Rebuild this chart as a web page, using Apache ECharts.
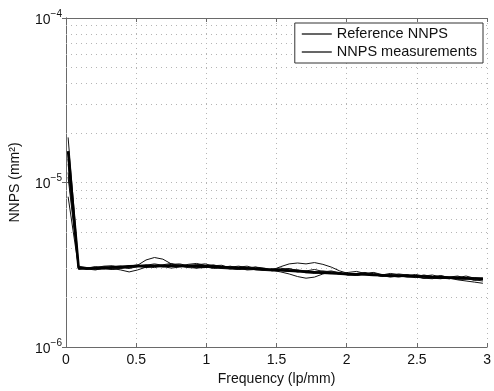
<!DOCTYPE html>
<html><head><meta charset="utf-8">
<script src="https://cdn.jsdelivr.net/npm/echarts@6/dist/echarts.min.js"></script>
<style>html,body{margin:0;padding:0;background:#fff}#c{width:494px;height:391px}</style>
</head><body><div id="c"></div>
<script>
// values in units of 1e-6 mm^2
const freq = [0.015,0.09,0.15,0.21,0.27,0.33,0.39,0.45,0.51,0.57,0.63,0.69,0.75,0.81,0.87,0.93,0.99,1.05,1.11,1.17,1.23,1.29,1.35,1.41,1.47,1.53,1.59,1.65,1.71,1.77,1.83,1.89,1.95,2.01,2.07,2.13,2.19,2.25,2.31,2.37,2.43,2.49,2.55,2.61,2.67,2.73,2.79,2.85,2.91,2.97];
const refNNPS = [15.5,3.02,3.0,3.01,3.03,3.05,3.07,3.09,3.1,3.11,3.12,3.12,3.12,3.12,3.11,3.1,3.09,3.08,3.06,3.04,3.02,3.0,2.99,2.97,2.95,2.93,2.91,2.89,2.87,2.85,2.83,2.81,2.8,2.78,2.77,2.76,2.74,2.73,2.72,2.71,2.7,2.69,2.68,2.66,2.65,2.64,2.63,2.62,2.61,2.6];
const meas1 = [18.8,3.1,3.04,2.96,2.98,3.08,3.1,3.02,3.14,3.38,3.5,3.42,3.2,3.08,3.06,3.16,3.2,3.12,3.0,2.98,3.06,3.1,3.0,2.92,2.9,2.98,3.0,2.9,2.82,2.84,2.9,2.86,2.76,2.74,2.8,2.84,2.76,2.68,2.7,2.78,2.74,2.66,2.62,2.68,2.72,2.64,2.6,2.58,2.64,2.62];
const meas2 = [13.9,2.98,3.02,3.08,3.04,2.96,3.0,3.1,3.16,3.08,3.04,3.1,3.18,3.2,3.12,3.06,3.04,3.12,3.14,3.02,2.96,2.98,3.06,3.02,2.94,3.08,3.2,3.24,3.2,3.26,3.18,3.06,2.9,2.8,2.74,2.78,2.82,2.74,2.68,2.72,2.76,2.7,2.62,2.64,2.7,2.66,2.58,2.6,2.56,2.52];
const meas3 = [13.0,3.04,2.98,2.94,3.02,3.0,2.94,2.86,2.94,3.06,3.12,3.08,3.02,3.06,3.14,3.16,3.08,3.0,3.04,3.1,3.02,2.94,2.96,3.0,2.92,2.86,2.78,2.68,2.62,2.66,2.78,2.86,2.84,2.76,2.72,2.78,2.8,2.72,2.66,2.7,2.74,2.68,2.62,2.6,2.66,2.62,2.56,2.52,2.48,2.44];
const meas4 = [11.5,3.06,3.0,3.04,3.1,3.12,3.04,3.0,3.08,3.14,3.2,3.14,3.08,3.1,3.18,3.22,3.14,3.04,3.0,3.06,3.1,3.04,2.94,2.92,2.98,3.02,2.94,2.86,2.9,2.96,2.88,2.8,2.78,2.84,2.88,2.8,2.72,2.74,2.8,2.76,2.68,2.64,2.7,2.74,2.66,2.6,2.64,2.7,2.62,2.56];
const meas5 = [10.8,2.96,3.02,3.06,2.98,2.96,3.04,3.12,3.1,3.04,3.08,3.16,3.22,3.12,3.04,3.02,3.1,3.16,3.06,2.98,2.96,3.04,3.06,2.98,2.9,2.92,2.98,2.94,2.84,2.8,2.86,2.9,2.82,2.74,2.72,2.8,2.84,2.76,2.7,2.66,2.72,2.76,2.7,2.62,2.6,2.66,2.7,2.62,2.54,2.58];
const meas6 = [8.2,3.0,2.96,3.02,3.08,3.04,3.0,3.06,3.12,3.16,3.1,3.06,3.12,3.16,3.1,3.02,3.04,3.12,3.08,3.0,2.98,3.04,3.0,2.94,2.98,2.92,2.88,2.94,2.9,2.82,2.8,2.86,2.82,2.74,2.78,2.82,2.74,2.7,2.76,2.72,2.66,2.68,2.74,2.68,2.62,2.6,2.66,2.62,2.58,2.62];
const measurements = [meas1, meas2, meas3, meas4, meas5, meas6];
const xTicks = [0, 0.5, 1, 1.5, 2, 2.5, 3];
const yTickLabels = {1: '−6', 10: '−5', 100: '−4'};
const minorGrid = [2,3,4,5,6,7,8,9,20,30,40,50,60,70,80,90];

const FONT = 'Liberation Sans';
const pair = arr => freq.slice(0, arr.length).map((f, i) => [f, arr[i]]);
const axisGray = '#6a6a6a';
const gridStyle = {color: '#b5b5b5', type: [1, 4], width: 1};

const series = [{
  name: 'grid', type: 'line', data: [], silent: true, animation: false, z: 1,
  markLine: {
    silent: true, symbol: 'none', label: {show: false}, animation: false, z: 1,
    lineStyle: gridStyle, data: minorGrid.map(v => ({yAxis: v}))
  }
}];
measurements.forEach((m) => {
  series.push({
    name: 'NNPS measurements', type: 'line', data: pair(m), symbol: 'none',
    lineStyle: {color: '#111', width: 1}, itemStyle: {color: '#111'}, animation: false, z: 3
  });
});
series.push({
  name: 'Reference NNPS', type: 'line', data: pair(refNNPS), symbol: 'none',
  lineStyle: {color: '#000', width: 2.6}, itemStyle: {color: '#000'}, animation: false, z: 4
});

const legendItem = name => ({
  name: name, icon: 'rect',
  itemStyle: {color: '#000', borderWidth: 0, opacity: 1},
  lineStyle: {width: 0, opacity: 0}
});

const chart = echarts.init(document.getElementById('c'), null, {renderer: 'canvas'});
chart.setOption({
  backgroundColor: '#fff',
  animation: false,
  textStyle: {fontFamily: FONT},
  grid: {left: 66, right: 5, top: 18, bottom: 38, containLabel: false},
  legend: {
    z: 50, right: 11, top: 23, orient: 'vertical', icon: 'rect',
    padding: [3, 6, 3, 7], itemGap: 2, itemWidth: 30, itemHeight: 1.2,
    borderColor: '#333', borderWidth: 1, backgroundColor: '#fff',
    itemStyle: {color: '#000', borderWidth: 0},
    textStyle: {fontFamily: FONT, fontSize: 14.5, color: '#111', lineHeight: 16},
    data: [legendItem('Reference NNPS'), legendItem('NNPS measurements')]
  },
  xAxis: [{
    type: 'value', min: 0, max: 3, interval: 0.5,
    name: 'Frequency (lp/mm)', nameLocation: 'middle', nameGap: 25,
    nameTextStyle: {fontFamily: FONT, fontSize: 14, color: '#111'},
    axisLine: {lineStyle: {color: axisGray, width: 1}},
    axisTick: {inside: true, length: 4, lineStyle: {color: axisGray}},
    axisLabel: {fontFamily: FONT, fontSize: 14, color: '#111', margin: 6,
      formatter: v => xTicks.includes(v) ? String(v) : ''},
    splitLine: {show: true, lineStyle: gridStyle}
  }, {
    type: 'value', min: 0, max: 3, interval: 0.5, position: 'top',
    axisLine: {show: true, lineStyle: {color: axisGray, width: 1}},
    axisTick: {inside: true, length: 4, lineStyle: {color: axisGray}},
    axisLabel: {show: false}, splitLine: {show: false}
  }],
  yAxis: [{
    type: 'log', logBase: 10, min: 1, max: 100,
    name: 'NNPS (mm²)', nameLocation: 'middle', nameGap: 44,
    nameTextStyle: {fontFamily: FONT, fontSize: 14, color: '#111'},
    axisLine: {show: true, lineStyle: {color: axisGray, width: 1}},
    axisTick: {show: true, inside: true, length: 4, lineStyle: {color: axisGray}},
    axisLabel: {
      margin: 4, color: '#111',
      formatter: v => {
        const k = Math.round(v);
        return yTickLabels[k] ? '{b|10}{s|' + yTickLabels[k] + '}' : '';
      },
      rich: {
        b: {fontFamily: FONT, fontSize: 14, color: '#111', lineHeight: 18, verticalAlign: 'bottom'},
        s: {fontFamily: FONT, fontSize: 10, color: '#111', lineHeight: 10, verticalAlign: 'top'}
      }
    },
    splitLine: {show: true, lineStyle: gridStyle}
  }, {
    type: 'log', logBase: 10, min: 1, max: 100, position: 'right',
    axisLine: {show: true, lineStyle: {color: axisGray, width: 1}},
    axisTick: {show: true, inside: true, length: 4, lineStyle: {color: axisGray}},
    axisLabel: {show: false}, splitLine: {show: false}
  }],
  series: series
});
</script></body></html>
